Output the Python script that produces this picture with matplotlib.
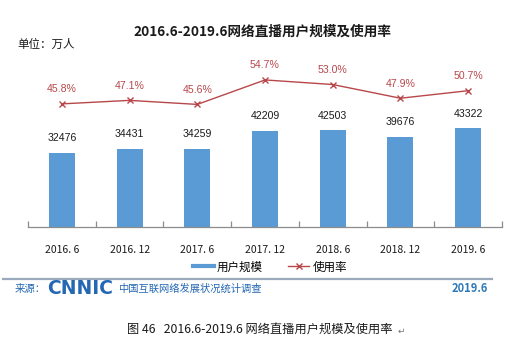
import matplotlib
matplotlib.use("Agg")
import matplotlib.pyplot as plt
from matplotlib.lines import Line2D
import numpy as np

plt.rcParams['font.family'] = ['Noto Sans CJK SC', 'DejaVu Sans']

# Data
periods = ['2016. 6', '2016. 12', '2017. 6', '2017. 12', '2018. 6', '2018. 12', '2019. 6']
users = [32476, 34431, 34259, 42209, 42503, 39676, 43322]      # 万人
usage_rate = [45.8, 47.1, 45.6, 54.7, 53.0, 47.9, 50.7]        # %

W, H = 518, 340
BLUE = '#5B9BD5'
RED = '#B8474A'
LOGO_BLUE = '#2467B3'

fig = plt.figure(figsize=(W / 100, H / 100), dpi=100)
fig.patch.set_facecolor('white')


def fx(x):
    return x / W


def fy(y):
    return 1 - y / H


# Plot area
left, right, top, bottom = 28, 502, 45, 227
ax = fig.add_axes([fx(left), fy(bottom), fx(right - left), (bottom - top) / H])
ax.patch.set_visible(False)
x = np.arange(len(periods))

ax.bar(x, users, width=0.385, color=BLUE, zorder=2)
ax.set_xlim(-0.5, len(periods) - 0.5)
ax.set_ylim(0, 80000)
for xi, v in zip(x, users):
    ax.annotate(f'{v}', (xi, v), xytext=(0, 7), textcoords='offset points',
                ha='center', va='bottom', fontsize=7.6, color='#1a1a1a',
                family='Liberation Sans')

for s in ['top', 'left', 'right']:
    ax.spines[s].set_visible(False)
ax.spines['bottom'].set_color('#8c8c8c')
ax.spines['bottom'].set_linewidth(0.9)
ax.set_yticks([])
ax.set_xticks(x)
ax.set_xticklabels(periods, fontsize=7.5, color='#1a1a1a')
ax.tick_params(axis='x', which='major', length=0, pad=13)
ax.set_xticks(np.arange(-0.5, len(periods), 1.0), minor=True)
ax.tick_params(axis='x', which='minor', direction='in', length=4,
               color='#8c8c8c', width=0.9)

ax2 = ax.twinx()
ax2.set_ylim(0, 67.7)
ax2.plot(x, usage_rate, color=RED, lw=1.0, marker='x', markersize=5,
         markeredgewidth=1.0, zorder=3)
for xi, v in zip(x, usage_rate):
    ax2.annotate(f'{v:.1f}%', (xi, v), xytext=(0, 7), textcoords='offset points',
                 ha='center', va='bottom', fontsize=7.6, color=RED,
                 family='Liberation Sans')
ax2.axis('off')

# Titles
fig.text(fx(262), fy(32), '2016.6-2019.6网络直播用户规模及使用率', ha='center',
         va='center', fontsize=9.8, fontweight='bold', color='#1a1a1a')
fig.text(fx(17), fy(44), '单位：万人', ha='left', va='center', fontsize=8.3,
         color='#1a1a1a')

# Legend
handles = [Line2D([], [], color=BLUE, lw=3),
           Line2D([], [], color=RED, lw=1.0, marker='x', markersize=5)]
fig.legend(handles, ['用户规模', '使用率'], loc='center', ncol=2,
           bbox_to_anchor=(fx(270), fy(267)), frameon=False, fontsize=8.3,
           handlelength=1.8, handletextpad=0.3, columnspacing=2.2)

# Source bar
fig.add_artist(Line2D([fx(3), fx(492)], [fy(279), fy(279)], color='#9aa9bb',
                      lw=1.6))
fig.text(fx(15), fy(289), '来源：', ha='left', va='center', fontsize=7.5,
         color=LOGO_BLUE)
fig.text(fx(47), fy(289), 'CNNIC', ha='left', va='center', fontsize=13.5,
         fontweight='bold', color=LOGO_BLUE, family='DejaVu Sans')
fig.text(fx(118), fy(289), '中国互联网络发展状况统计调查', ha='left', va='center',
         fontsize=7.4, color=LOGO_BLUE)
fig.text(fx(488), fy(289), '2019.6', ha='right', va='center', fontsize=8,
         fontweight='bold', color='#2f78b8')

# Caption
fig.text(fx(127), fy(330), '图 46   2016.6-2019.6 网络直播用户规模及使用率',
         ha='left', va='center', fontsize=8.8, color='#1a1a1a')
fig.text(fx(398), fy(331), '↵', ha='left', va='center', fontsize=6.5,
         color='#777777', family='DejaVu Sans')

fig.savefig('out.png', dpi=100, facecolor='white')
